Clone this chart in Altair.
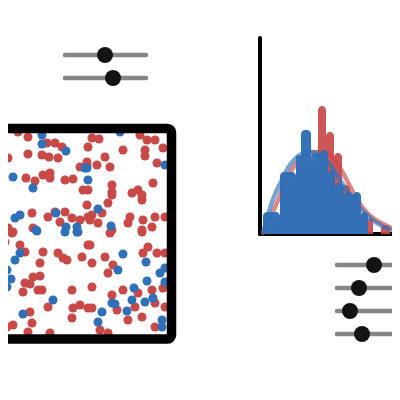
import altair as alt
import pandas as pd

RED = "#c94848"
BLUE = "#3070b8"

# scatter points (canvas units)
red_x = [18,28,3,8,28,42,49,58,55,62,47,26,35,43,50,50,65,73,80,83,32,48,55,65,72,60,80,33,13,8,88,87,
         92,99,88,123,105,97,110,87,140,147,155,145,145,163,157,112,112,112,132,138,142,142,153,88,87,108,92,102,90,98,130,128,143,155,152,165,112,142,
         12,5,20,25,43,40,58,63,67,82,88,33,40,25,30,23,38,42,72,2,48,73,80,88,30,72,32,13,7,28,50,2,
         110,142,90,105,92,148,143,157,165,113,108,92,123,112,138,152,155,163,92,117,135,128,142,100,108,155,165]
red_y = [132,137,157,158,154,155,157,158,143,147,143,178,181,175,173,178,180,179,167,190,213,217,212,212,218,222,220,228,232,228,217,165,
         138,139,147,150,157,165,167,162,135,140,140,150,156,148,163,185,192,195,193,190,195,200,183,190,205,203,215,213,220,223,217,223,220,217,227,217,230,230,
         233,242,245,252,252,263,253,258,260,257,245,277,276,283,284,292,290,290,290,300,307,308,305,308,312,318,323,325,327,332,333,272,
         233,232,245,257,263,247,253,253,253,265,273,287,290,295,293,290,303,288,308,310,307,320,317,330,333,327,307]
blue_x = [3,42,42,66,13,33,85,88,20,15,3,56,66,77,77,36,
          120,87,165,98,111,
          37,78,20,15,7,11,7,53,2,23,65,
          123,146,118,160,165,147,165,134,132,112,115,145,153,102,127,98,162,162]
blue_y = [150,135,144,151,177,188,168,180,215,218,224,213,227,227,232,230,
          132,168,165,209,226,
          231,232,253,260,270,279,287,300,307,314,232,
          254,262,270,273,268,281,282,288,300,303,304,302,298,312,311,322,320,327]

# scatter frame
frame_x = [-30]; frame_x2 = [171.5]; frame_y = [128.5]; frame_y2 = [339]

# sliders
track_x = [65, 65, 337, 337, 337, 337]
track_x2 = [146, 146, 405, 405, 405, 405]
track_y = [55, 78, 265, 288, 311, 334]
knob_x = [105, 113, 374, 359, 350, 362]

# histogram axes
haxis_x = [260, 260]; haxis_x2 = [260, 412]
haxis_y = [38, 234]; haxis_y2 = [234, 234]
base = 234

# histogram bins (left, right, top)
blue_l = [263,280,296,301,311,320,328,335,344,353,361]
blue_r = [280,296,301,311,320,328,335,344,353,361,368]
blue_t = [212,172,155,130,153,150,170,183,192,192,212]
red_l = [263,280,296,310,318,326,334,342,350,360,368,381]
red_r = [280,296,310,318,326,334,342,350,360,368,373,390]
red_t = [220,180,165,160,106,132,153,185,200,213,218,225]

# density curves
bk_x = [263,267,271,276,282,288,294,300,308,316,324,332,340,350,360,370,382,395,404]
bk_y = [232,220,205,192,180,168,160,155,152,153,158,167,180,195,208,218,226,231,233]
rk_x = [263,273,283,293,303,313,323,333,343,353,363,373,385,400]
rk_y = [233,212,188,168,157,152,152,158,173,192,208,218,225,231]

XS = alt.Scale(domain=[8, 392], nice=False, zero=False)
YS = alt.Scale(domain=[392, 8], nice=False, zero=False)

def X(f="x"):
    return alt.X(f, type="quantitative", scale=XS, axis=None)

def Y(f="y"):
    return alt.Y(f, type="quantitative", scale=YS, axis=None)

pts = pd.DataFrame({
    "x": red_x + blue_x,
    "y": red_y + blue_y,
    "g": ["r"] * len(red_x) + ["b"] * len(blue_x),
})
scatter = alt.Chart(pts).mark_circle(size=82, opacity=1).encode(
    x=X(), y=Y(),
    color=alt.Color("g:N", scale=alt.Scale(domain=["r", "b"], range=[RED, BLUE]), legend=None),
)

frame = alt.Chart(pd.DataFrame({"x": frame_x, "x2": frame_x2, "y": frame_y, "y2": frame_y2})).mark_rect(
    fill=None, filled=False, stroke="black", strokeWidth=9.5, cornerRadius=4
).encode(x=X(), x2="x2", y=Y(), y2="y2")

tracks = alt.Chart(pd.DataFrame({"x": track_x, "x2": track_x2, "y": track_y})).mark_rule(
    color="#858585", strokeWidth=4.5, strokeCap="round"
).encode(x=X(), x2="x2", y=Y())

knobs = alt.Chart(pd.DataFrame({"x": knob_x, "y": track_y})).mark_circle(
    size=255, color="#141414", opacity=1
).encode(x=X(), y=Y())

haxis = alt.Chart(pd.DataFrame({"x": haxis_x, "x2": haxis_x2, "y": haxis_y, "y2": haxis_y2})).mark_rule(
    color="black", strokeWidth=4, strokeCap="round"
).encode(x=X(), x2="x2", y=Y(), y2="y2")

def bars(l, r, t, col, op):
    df = pd.DataFrame({"x": l, "x2": r, "y": t, "y2": [base] * len(t)})
    return alt.Chart(df).mark_bar(
        color=col, opacity=op, cornerRadiusTopLeft=4, cornerRadiusTopRight=4
    ).encode(x=X(), x2="x2", y=Y(), y2="y2")

def kde(xs, ys, col):
    df = pd.DataFrame({"x": xs, "y": ys})
    return alt.Chart(df).mark_line(
        color=col, strokeWidth=4.5, opacity=0.65, interpolate="monotone", strokeCap="round"
    ).encode(x=X(), y=Y())

chart = alt.layer(
    scatter, frame, tracks, knobs, haxis,
    bars(red_l, red_r, red_t, RED, 0.92), kde(rk_x, rk_y, RED),
    bars(blue_l, blue_r, blue_t, BLUE, 0.97), kde(bk_x, bk_y, BLUE),
).properties(
    width=384, height=384, padding=0, autosize=alt.AutoSizeParams(type="none"), background="white"
).configure_view(stroke=None)

chart.save("out.html", embed_options={"renderer": "svg", "actions": False})
